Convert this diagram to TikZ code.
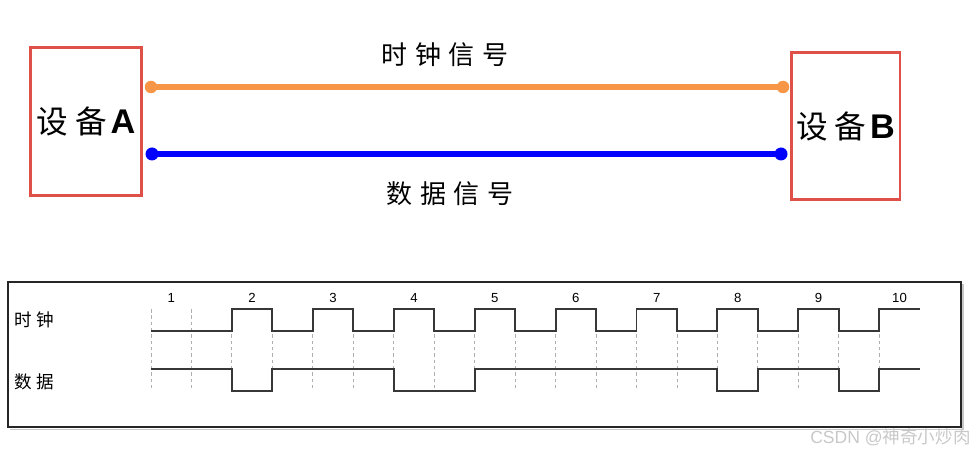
\documentclass[tikz,border=0pt]{standalone}
\usepackage{fontspec}
\setmainfont{Liberation Sans}
\newfontfamily\cjk{Noto Sans CJK SC}
\usepackage{xcolor}
\usetikzlibrary{positioning}

\definecolor{boxred}{RGB}{222,80,72}
\definecolor{clkorange}{RGB}{247,150,70}
\definecolor{datblue}{RGB}{0,0,255}
\definecolor{wavegray}{RGB}{55,55,55}
\definecolor{gridgray}{RGB}{175,175,175}
\definecolor{markgray}{RGB}{200,200,200}

\begin{document}
\begin{tikzpicture}[x=0.02cm, y=-0.02cm, line join=miter,
    device/.style={draw=boxred, line width=1.7pt, inner sep=0pt,
        font=\fontsize{18}{18}\selectfont},
    siglabel/.style={font=\cjk\fontsize{14.8}{15}\selectfont},
    rowlabel/.style={font=\cjk\fontsize{10}{10}\selectfont, anchor=west, inner sep=0pt},
    ticklabel/.style={font=\fontsize{7.5}{8}\selectfont, inner sep=0pt},
    wave/.style={draw=wavegray, line width=1.1pt},
    gridline/.style={draw=gridgray, line width=0.5pt, dash pattern=on 2pt off 1.6pt}]

        \useasboundingbox (0,0) rectangle (973,455);

        % =========================
        % THIẾT BỊ A, B
        % =========================
        \node[device, minimum width=2.24cm, minimum height=2.98cm] (boxA) at (86,121.5)
            {{\cjk 设\hspace{4pt}备}\hspace{2pt}{\fontsize{19.5}{19.5}\selectfont\textbf{A}}};
        \node[device, minimum width=2.18cm, minimum height=2.96cm] (boxB) at (845.5,126)
            {{\cjk 设\hspace{4pt}备}\hspace{2pt}{\fontsize{19.5}{19.5}\selectfont\textbf{B}}};

        % =========================
        % ĐƯỜNG TÍN HIỆU
        % =========================
        \coordinate (clkA) at (151,87);
        \coordinate (clkB) at (783,87);
        \coordinate (datA) at (152,154);
        \coordinate (datB) at (781,154);

        \draw[clkorange, line width=3.5pt] (clkA) -- (clkB);
        \fill[clkorange] (clkA) circle (0.125cm);
        \fill[clkorange] (clkB) circle (0.125cm);

        \draw[datblue, line width=3.6pt] (datA) -- (datB);
        \fill[datblue] (datA) circle (0.13cm);
        \fill[datblue] (datB) circle (0.13cm);

        \node[siglabel] (clklabel) at (445,55)
            {时\hspace{4.5pt}钟\hspace{4.5pt}信\hspace{4.5pt}号};
        \node[siglabel] (datlabel) at (450,194)
            {数\hspace{4.5pt}据\hspace{4.5pt}信\hspace{4.5pt}号};

        % =========================
        % GIẢN ĐỒ THỜI GIAN
        % =========================
        \draw[markgray, line width=1pt] (10,429.5) -- (963,429.5) -- (963,284);
        \draw[black!85, line width=0.8pt] (8,282) rectangle (961,427);

        \node[rowlabel] (clkrow) at (14,320) {时\hspace{2.5pt}钟};
        \node[rowlabel] (datrow) at (14,382) {数\hspace{2.5pt}据};

        \begin{scope}[xshift=3.02cm, x=0.8094cm]
            % Nét đứt
            \foreach \k in {0,...,18}
                \draw[gridline] (\k,309) -- (\k,391);

            % Số thứ tự
            \foreach \n in {1,...,10}
                \node[ticklabel] (num\n) at ({2*\n-1.5},298) {\n};

            % Xung nhịp
            \draw[wave] (0,331) -- (2,331)
                \foreach \k in {2,4,...,16} {
                    -- (\k,309) -- (\k+1,309) -- (\k+1,331) -- (\k+2,331)
                }
                -- (18,309) -- (19,309);

            % Dữ liệu
            \draw[wave] (0,369) -- (2,369) -- (2,391) -- (3,391) -- (3,369)
                -- (6,369) -- (6,391) -- (8,391) -- (8,369)
                -- (14,369) -- (14,391) -- (15,391) -- (15,369)
                -- (17,369) -- (17,391) -- (18,391) -- (18,369) -- (19,369);
        \end{scope}

        % =========================
        % GHI CHÚ
        % =========================
        \node[anchor=east, text=markgray, inner sep=0pt,
            font=\fontsize{10}{10}\selectfont] (mark) at (971,437)
            {CSDN @{\cjk 神奇小炒肉}};

\end{tikzpicture}
\end{document}
